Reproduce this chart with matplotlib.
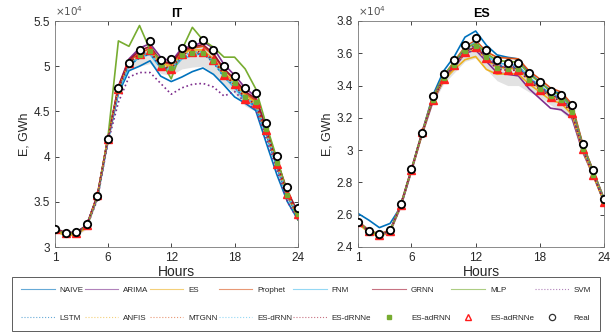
import matplotlib
matplotlib.use("Agg")
import matplotlib.pyplot as plt
from matplotlib.lines import Line2D
import numpy as np

plt.rcParams['font.family'] = ['Liberation Sans', 'DejaVu Sans']

hours = list(range(1, 25))
xticks = [1, 6, 12, 18, 24]

methods = ["NAIVE", "ARIMA", "ES", "Prophet", "FNM", "GRNN", "MLP", "SVM",
           "LSTM", "ANFIS", "MTGNN", "ES-dRNN", "ES-dRNNe", "ES-adRNN", "ES-adRNNe", "Real"]

# ---------------- IT (x10^4 GWh) ----------------
it_naive   = [3.19,3.15,3.15,3.23,3.54,4.17,4.70,4.95,5.00,5.06,4.89,4.83,4.88,4.94,4.98,4.91,4.79,4.66,4.59,4.51,4.15,3.80,3.50,3.30]
it_arima   = [3.20,3.16,3.16,3.24,3.56,4.20,4.78,5.08,5.20,5.25,5.10,5.05,5.20,5.22,5.27,5.20,5.02,4.90,4.76,4.66,4.32,3.95,3.60,3.35]
it_es      = [3.17,3.13,3.13,3.22,3.55,4.20,4.74,5.02,5.10,5.15,5.03,5.00,5.15,5.18,5.18,5.08,4.93,4.82,4.68,4.60,4.28,3.92,3.58,3.36]
it_prophet = [3.19,3.15,3.15,3.24,3.56,4.20,4.76,5.06,5.14,5.20,5.05,5.02,5.16,5.20,5.22,5.12,4.96,4.85,4.70,4.62,4.30,3.95,3.60,3.38]
it_fnm     = [3.19,3.16,3.16,3.24,3.56,4.18,4.72,5.00,5.10,5.13,4.98,4.95,5.08,5.12,5.14,5.05,4.88,4.76,4.62,4.55,4.24,3.88,3.55,3.35]
it_grnn    = [3.20,3.16,3.16,3.24,3.57,4.20,4.77,5.07,5.17,5.22,5.06,5.03,5.18,5.21,5.24,5.14,4.97,4.86,4.72,4.64,4.31,3.96,3.62,3.38]
it_mlp     = [3.19,3.15,3.15,3.23,3.55,4.20,5.28,5.22,5.45,5.18,5.07,4.86,5.18,5.43,5.29,5.21,5.10,5.10,4.97,4.75,4.35,3.98,3.60,3.30]
it_svm     = [3.18,3.14,3.14,3.22,3.52,4.15,4.60,4.88,4.93,4.93,4.81,4.69,4.76,4.80,4.81,4.77,4.67,4.72,4.60,4.52,4.20,3.85,3.50,3.30]
it_lstm    = [3.19,3.15,3.15,3.23,3.55,4.18,4.73,5.01,5.09,5.14,4.99,4.96,5.10,5.13,5.14,5.04,4.88,4.78,4.63,4.56,4.25,3.89,3.56,3.35]
it_anfis   = [3.18,3.14,3.14,3.23,3.56,4.19,4.75,5.04,5.12,5.17,5.02,4.99,5.13,5.16,5.17,5.07,4.91,4.80,4.66,4.58,4.27,3.91,3.57,3.36]
it_mtgnn   = [3.19,3.15,3.15,3.24,3.56,4.20,4.76,5.05,5.11,5.16,5.01,4.98,5.11,5.14,5.15,5.06,4.90,4.79,4.65,4.57,4.26,3.90,3.56,3.34]
it_esdrnn  = [3.20,3.16,3.16,3.24,3.56,4.19,4.74,5.03,5.12,5.16,5.00,4.97,5.12,5.15,5.16,5.06,4.90,4.80,4.65,4.58,4.28,3.91,3.58,3.36]
it_esdrnne = [3.20,3.16,3.16,3.24,3.57,4.19,4.75,5.04,5.13,5.17,5.00,4.97,5.13,5.16,5.16,5.07,4.91,4.80,4.64,4.59,4.29,3.92,3.59,3.37]
it_esadrnn = [3.19,3.15,3.15,3.24,3.55,4.19,4.74,5.03,5.12,5.17,5.01,4.98,5.12,5.15,5.15,5.06,4.91,4.81,4.66,4.60,4.30,3.93,3.58,3.36]
it_esadrnne= [3.20,3.16,3.16,3.24,3.57,4.19,4.75,5.04,5.13,5.18,5.00,4.97,5.13,5.16,5.16,5.07,4.90,4.80,4.64,4.59,4.29,3.92,3.59,3.37]
it_real    = [3.20,3.16,3.17,3.25,3.56,4.20,4.76,5.04,5.18,5.28,5.07,5.08,5.20,5.25,5.29,5.18,5.00,4.89,4.76,4.70,4.37,4.01,3.66,3.43]
it_pi_low  = [3.16,3.12,3.12,3.20,3.52,4.15,4.68,4.96,5.00,5.03,4.92,4.90,4.97,4.99,5.00,4.92,4.80,4.70,4.56,4.50,4.20,3.84,3.52,3.31]
it_pi_up   = [3.22,3.18,3.18,3.26,3.59,4.22,4.79,5.09,5.19,5.24,5.07,5.04,5.19,5.22,5.23,5.13,4.96,4.86,4.71,4.64,4.33,3.96,3.63,3.41]

# ---------------- ES (x10^4 GWh) ----------------
es_naive   = [2.608,2.567,2.520,2.546,2.650,2.880,3.110,3.340,3.490,3.580,3.700,3.738,3.650,3.590,3.575,3.565,3.480,3.420,3.370,3.350,3.270,3.040,2.870,2.700]
es_arima   = [2.550,2.495,2.470,2.495,2.650,2.870,3.100,3.300,3.430,3.510,3.600,3.620,3.550,3.480,3.470,3.460,3.380,3.320,3.260,3.250,3.200,2.990,2.840,2.680]
es_es      = [2.545,2.490,2.465,2.495,2.655,2.875,3.100,3.310,3.430,3.500,3.560,3.580,3.500,3.470,3.475,3.470,3.410,3.360,3.310,3.290,3.220,3.000,2.840,2.680]
es_prophet = [2.560,2.505,2.480,2.505,2.665,2.885,3.115,3.330,3.460,3.550,3.640,3.680,3.610,3.575,3.570,3.565,3.490,3.440,3.385,3.360,3.285,3.040,2.870,2.700]
es_fnm     = [2.555,2.500,2.475,2.500,2.660,2.880,3.110,3.320,3.455,3.540,3.630,3.670,3.590,3.540,3.530,3.525,3.450,3.400,3.350,3.330,3.260,3.020,2.860,2.690]
es_grnn    = [2.555,2.500,2.475,2.500,2.660,2.880,3.105,3.315,3.445,3.530,3.610,3.640,3.570,3.520,3.510,3.505,3.440,3.385,3.340,3.315,3.240,3.010,2.850,2.685]
es_mlp     = [2.555,2.500,2.475,2.500,2.660,2.880,3.110,3.325,3.460,3.545,3.630,3.660,3.600,3.555,3.550,3.545,3.470,3.420,3.365,3.340,3.265,3.030,2.865,2.695]
es_svm     = [2.550,2.495,2.470,2.495,2.655,2.875,3.105,3.315,3.450,3.535,3.620,3.650,3.580,3.530,3.520,3.515,3.445,3.395,3.345,3.320,3.250,3.015,2.855,2.690]
es_lstm    = [2.552,2.497,2.472,2.498,2.658,2.878,3.108,3.318,3.448,3.532,3.615,3.645,3.575,3.525,3.515,3.510,3.440,3.390,3.340,3.315,3.245,3.012,2.852,2.688]
es_anfis   = [2.548,2.494,2.470,2.496,2.656,2.876,3.104,3.312,3.442,3.522,3.600,3.630,3.560,3.510,3.505,3.500,3.432,3.380,3.333,3.308,3.238,3.006,2.848,2.684]
es_mtgnn   = [2.553,2.498,2.474,2.499,2.659,2.879,3.109,3.316,3.446,3.528,3.612,3.642,3.574,3.512,3.502,3.500,3.434,3.381,3.335,3.309,3.236,3.007,2.848,2.684]
es_esdrnn  = [2.554,2.499,2.474,2.500,2.660,2.880,3.110,3.312,3.444,3.528,3.610,3.640,3.575,3.505,3.500,3.498,3.432,3.378,3.333,3.306,3.234,3.006,2.847,2.682]
es_esdrnne = [2.555,2.500,2.475,2.500,2.660,2.880,3.110,3.310,3.443,3.526,3.608,3.639,3.573,3.500,3.495,3.495,3.429,3.375,3.330,3.303,3.231,3.004,2.845,2.680]
es_esadrnn = [2.553,2.498,2.474,2.500,2.659,2.879,3.108,3.312,3.446,3.530,3.615,3.645,3.578,3.508,3.500,3.500,3.434,3.380,3.336,3.308,3.236,3.008,2.848,2.683]
es_esadrnne= [2.555,2.500,2.475,2.500,2.660,2.880,3.110,3.310,3.443,3.526,3.608,3.639,3.573,3.500,3.495,3.495,3.429,3.375,3.330,3.303,3.231,3.004,2.845,2.680]
es_real    = [2.557,2.499,2.478,2.505,2.664,2.882,3.109,3.334,3.470,3.561,3.650,3.695,3.619,3.561,3.542,3.538,3.476,3.423,3.367,3.344,3.278,3.039,2.874,2.697]
es_pi_low  = [2.540,2.485,2.460,2.485,2.645,2.865,3.090,3.290,3.410,3.480,3.550,3.570,3.500,3.430,3.400,3.400,3.360,3.330,3.280,3.240,3.180,2.985,2.830,2.670]
es_pi_up   = [2.570,2.515,2.490,2.515,2.675,2.895,3.125,3.330,3.465,3.550,3.635,3.665,3.600,3.530,3.525,3.520,3.455,3.400,3.355,3.330,3.260,3.025,2.862,2.695]

line_styles = {
    "NAIVE":    dict(color="#0072BD", ls="-"),
    "ARIMA":    dict(color="#7E2F8E", ls="-"),
    "ES":       dict(color="#EDB120", ls="-"),
    "Prophet":  dict(color="#D95319", ls="-"),
    "FNM":      dict(color="#4DBEEE", ls="-"),
    "GRNN":     dict(color="#A2142F", ls="-"),
    "MLP":      dict(color="#77AC30", ls="-"),
    "SVM":      dict(color="#7E2F8E", ls=":"),
    "LSTM":     dict(color="#0072BD", ls=":"),
    "ANFIS":    dict(color="#EDB120", ls=":"),
    "MTGNN":    dict(color="#D95319", ls=":"),
    "ES-dRNN":  dict(color="#4DBEEE", ls=":"),
    "ES-dRNNe": dict(color="#A2142F", ls=":"),
}

it_series = dict(zip(methods, [it_naive, it_arima, it_es, it_prophet, it_fnm, it_grnn, it_mlp, it_svm,
                               it_lstm, it_anfis, it_mtgnn, it_esdrnn, it_esdrnne, it_esadrnn, it_esadrnne, it_real]))
es_series = dict(zip(methods, [es_naive, es_arima, es_es, es_prophet, es_fnm, es_grnn, es_mlp, es_svm,
                               es_lstm, es_anfis, es_mtgnn, es_esdrnn, es_esdrnne, es_esadrnn, es_esadrnne, es_real]))

W, H = 611, 335
fig = plt.figure(figsize=(W/100, H/100), dpi=100)

def px_axes(x0, y0, x1, y1):
    return fig.add_axes([x0/W, 1 - y1/H, (x1-x0)/W, (y1-y0)/H])

ax1 = px_axes(55, 21, 298, 247)
ax2 = px_axes(358, 21, 604, 247)

grey = "#262626"

def draw(ax, series, low, up, title, ylim, yticks):
    ax.fill_between(hours, low, up, color="#d9d9d9", alpha=0.75, lw=0, zorder=1)
    for m, st in line_styles.items():
        ax.plot(hours, series[m], color=st["color"], ls=st["ls"], lw=1.2, zorder=2)
    ax.plot(hours, series["ES-adRNNe"], ls="none", marker="^", ms=6, mfc="#FF2020", mec="#FF2020", mew=1.0, zorder=4)
    ax.plot(hours, series["ES-adRNN"], ls="none", marker="s", ms=2.6, mfc="#77AC30", mec="#77AC30", zorder=5)
    ax.plot(hours, series["Real"], ls="none", marker="o", ms=5.3, mfc="white", mec="black", mew=1.3, zorder=6)
    ax.set_xlim(1, 24)
    ax.set_ylim(*ylim)
    ax.set_xticks(xticks)
    ax.set_yticks(yticks)
    ax.set_yticklabels([f"{v:g}" for v in yticks])
    ax.tick_params(direction="in", length=3, labelsize=8.5, colors=grey, width=0.6, top=True, right=True,
                   labeltop=False, labelright=False)
    for s in ax.spines.values():
        s.set_color("#777777")
        s.set_linewidth(0.6)
    ax.set_title(title, fontsize=9, fontweight="bold", pad=3)
    ax.set_xlabel("Hours", fontsize=10, color=grey, labelpad=1)
    ax.set_ylabel("E, GWh", fontsize=9, color=grey, labelpad=2)
    ax.text(0.0, 1.012, r"$\times10^4$", transform=ax.transAxes, fontsize=7.5, color="#555555",
            ha="left", va="bottom")

draw(ax1, it_series, it_pi_low, it_pi_up, "IT", (3, 5.5), [3, 3.5, 4, 4.5, 5, 5.5])
draw(ax2, es_series, es_pi_low, es_pi_up, "ES", (2.4, 3.8), [2.4, 2.6, 2.8, 3, 3.2, 3.4, 3.6, 3.8])

handles = {}
for m in methods:
    if m in line_styles:
        st = line_styles[m]
        handles[m] = Line2D([], [], color=st["color"], ls=st["ls"], lw=0.8, alpha=0.6)
    elif m == "ES-adRNN":
        handles[m] = Line2D([], [], ls="none", marker="s", ms=3, mfc="#77AC30", mec="#77AC30")
    elif m == "ES-adRNNe":
        handles[m] = Line2D([], [], ls="none", marker="^", ms=5, mfc="none", mec="#FF1A1A", mew=1.0)
    else:
        handles[m] = Line2D([], [], ls="none", marker="o", ms=4.5, mfc="none", mec="#333333", mew=0.9)

# matplotlib fills legend columns first: interleave the two rows
ncol = 8
order = []
for c in range(ncol):
    order.append(methods[c])
    order.append(methods[c + ncol])

leg = fig.legend([handles[m] for m in order], order, loc="lower left",
                 bbox_to_anchor=(12/W, 4/H, (600-12)/W, (59-4)/H), mode="expand",
                 ncol=ncol, fontsize=5.8, handlelength=4.2, handletextpad=0.6,
                 columnspacing=1.0, borderaxespad=0, labelspacing=2.6, borderpad=1.1,
                 frameon=True, fancybox=False, edgecolor="#333333")
leg.get_frame().set_linewidth(0.7)
for t in leg.get_texts():
    t.set_color(grey)

fig.savefig("out.png", dpi=100)
